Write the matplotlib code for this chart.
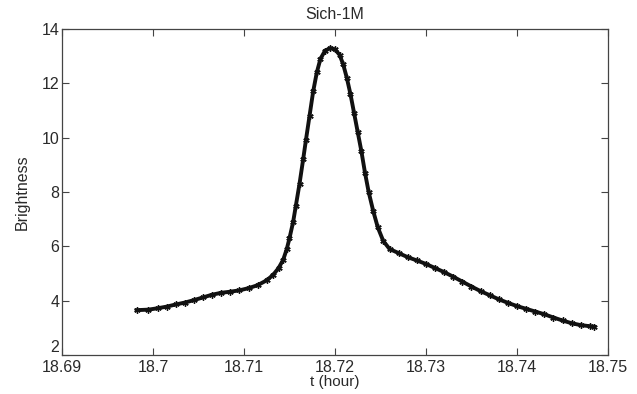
import matplotlib
matplotlib.use("Agg")
import matplotlib.pyplot as plt

t_hour = [18.6982, 18.6995, 18.7005, 18.7015, 18.7025, 18.7035, 18.7045, 18.7055,
          18.7065, 18.7075, 18.7085, 18.7095, 18.7105, 18.7115, 18.7125, 18.7132,
          18.7138, 18.7143, 18.7147, 18.7150, 18.7154, 18.7157, 18.7161, 18.7165,
          18.7168, 18.7172, 18.7176, 18.7180, 18.7184, 18.7189, 18.7195, 18.7200,
          18.7205, 18.7209, 18.7213, 18.7217, 18.7221, 18.7225, 18.7229, 18.7233,
          18.7237, 18.7242, 18.7247, 18.7253, 18.7260, 18.7270, 18.7280, 18.7290,
          18.7300, 18.7310, 18.7320, 18.7330, 18.7340, 18.7350, 18.7360, 18.7370,
          18.7380, 18.7390, 18.7400, 18.7410, 18.7420, 18.7430, 18.7440, 18.7450,
          18.7460, 18.7470, 18.7480, 18.7485]
brightness = [3.65, 3.67, 3.72, 3.78, 3.86, 3.93, 4.02, 4.12,
              4.22, 4.29, 4.33, 4.38, 4.46, 4.57, 4.75, 4.95,
              5.2, 5.5, 5.9, 6.3, 6.9, 7.5, 8.3, 9.2,
              9.9, 10.8, 11.7, 12.4, 12.9, 13.2, 13.3, 13.25,
              13.05, 12.7, 12.2, 11.6, 10.9, 10.2, 9.5, 8.7,
              8.0, 7.3, 6.7, 6.2, 5.9, 5.75, 5.6, 5.48,
              5.35, 5.2, 5.05, 4.88, 4.7, 4.52, 4.35, 4.2,
              4.05, 3.92, 3.8, 3.7, 3.6, 3.5, 3.38, 3.27,
              3.17, 3.1, 3.06, 3.04]

x_ticks = [18.69, 18.70, 18.71, 18.72, 18.73, 18.74, 18.75]
x_tick_labels = ["18.69", "18.7", "18.71", "18.72", "18.73", "18.74", "18.75"]
y_ticks = [2, 4, 6, 8, 10, 12, 14]

plt.rcParams['font.family'] = ['Liberation Sans', 'DejaVu Sans']
txt = '#2a2a2a'

fig = plt.figure(figsize=(6.37, 3.94), dpi=100)
ax = fig.add_axes([62/637, 1-355/394, (608-62)/637, (355-29)/394])

ax.plot(t_hour, brightness, color='#111111', linewidth=2.8,
        marker=(6, 2, 0), markersize=4.5, markeredgewidth=1.0)

ax.set_xlim(18.69, 18.75)
ax.set_ylim(2, 14)
ax.set_xticks(x_ticks)
ax.set_xticklabels(x_tick_labels)
ax.set_yticks(y_ticks)
ax.tick_params(direction='in', length=5, width=0.8, top=True, right=True,
               labelsize=11.5, colors='#444444', labelcolor=txt)
ax.tick_params(axis='x', pad=3.5)
ax.tick_params(axis='y', pad=2)
ax.get_yticklabels()[0].set_va('bottom')
for s in ax.spines.values():
    s.set_color('#444444')
    s.set_linewidth(0.9)

ax.set_title("Sich-1M", fontsize=11.5, color=txt, pad=7)
ax.set_xlabel("t (hour)", fontsize=11, color=txt, labelpad=0)
ax.set_ylabel("Brightness", fontsize=11.5, color=txt, labelpad=8)

fig.savefig("out.png", dpi=100, facecolor='white')
